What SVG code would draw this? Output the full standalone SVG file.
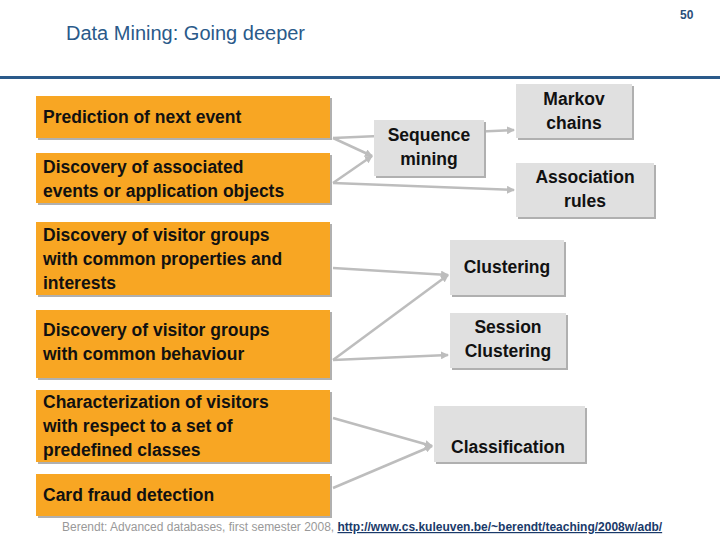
<svg xmlns="http://www.w3.org/2000/svg" width="720" height="540" viewBox="0 0 720 540">
<style>
text{font-family:"Liberation Sans",Arial,sans-serif}
.o{fill:#f8a623}
.g{fill:#e0e0e0}
.sh{fill:#b0b0b0}
.t{font-size:17.5px;font-weight:bold;fill:#111}
.c{text-anchor:middle}
.ln{stroke:#bdbdbd;stroke-width:2.5;fill:none;marker-end:url(#a)}
</style>
<defs><marker id="a" markerWidth="8" markerHeight="8" refX="7" refY="4" orient="auto" markerUnits="userSpaceOnUse"><path d="M0,0 L8,4 L0,8 Z" fill="#bdbdbd"/></marker></defs>
<rect width="720" height="540" fill="#fff"/>
<text x="680" y="19" font-size="12" font-weight="bold" fill="#2a4f7a">50</text>
<text x="66" y="40" font-size="20" fill="#2a5a8a">Data Mining: Going deeper</text>
<rect x="0" y="76" width="720" height="3" fill="#2a5a8a"/>
<g id="connectors">
<path class="ln" d="M333,138 L514,130"/>
<path class="ln" d="M333,138 L372,156"/>
<path class="ln" d="M333,183 L372,156"/>
<path class="ln" d="M333,183 L514,190"/>
<path class="ln" d="M333,268 L448,275"/>
<path class="ln" d="M333,360 L448,275"/>
<path class="ln" d="M333,360 L448,355"/>
<path class="ln" d="M333,418 L432,446"/>
<path class="ln" d="M333,488 L432,446"/>
</g>
<g id="n1"><rect class="sh" x="38" y="98" width="294" height="42"/><rect class="o" x="36" y="96" width="294" height="42"/><text class="t" x="43" y="123">Prediction of next event</text></g>
<g id="n2"><rect class="sh" x="38" y="155" width="294" height="50"/><rect class="o" x="36" y="153" width="294" height="50"/><text class="t" x="43" y="173">Discovery of associated</text><text class="t" x="43" y="197">events or application objects</text></g>
<g id="n3"><rect class="sh" x="38" y="224" width="294" height="73"/><rect class="o" x="36" y="222" width="294" height="73"/><text class="t" x="43" y="241">Discovery of visitor groups</text><text class="t" x="43" y="265">with common properties and</text><text class="t" x="43" y="289">interests</text></g>
<g id="n4"><rect class="sh" x="38" y="312" width="294" height="68"/><rect class="o" x="36" y="310" width="294" height="68"/><text class="t" x="43" y="336">Discovery of visitor groups</text><text class="t" x="43" y="360">with common behaviour</text></g>
<g id="n5"><rect class="sh" x="38" y="392" width="294" height="72"/><rect class="o" x="36" y="390" width="294" height="72"/><text class="t" x="43" y="408">Characterization of visitors</text><text class="t" x="43" y="432">with respect to a set of</text><text class="t" x="43" y="456">predefined classes</text></g>
<g id="n6"><rect class="sh" x="38" y="476" width="294" height="42"/><rect class="o" x="36" y="474" width="294" height="42"/><text class="t" x="43" y="501">Card fraud detection</text></g>
<g id="seq"><rect class="sh" x="376" y="122" width="110" height="56"/><rect class="g" x="374" y="120" width="110" height="56"/><text class="t c" x="429" y="141">Sequence</text><text class="t c" x="429" y="165">mining</text></g>
<g id="markov"><rect class="sh" x="518" y="86" width="116" height="54"/><rect class="g" x="516" y="84" width="116" height="54"/><text class="t c" x="574" y="105">Markov</text><text class="t c" x="574" y="129">chains</text></g>
<g id="assoc"><rect class="sh" x="518" y="165" width="138" height="54"/><rect class="g" x="516" y="163" width="138" height="54"/><text class="t c" x="585" y="183">Association</text><text class="t c" x="585" y="207">rules</text></g>
<g id="clust"><rect class="sh" x="452" y="242" width="114" height="55"/><rect class="g" x="450" y="240" width="114" height="55"/><text class="t c" x="507" y="273">Clustering</text></g>
<g id="sess"><rect class="sh" x="452" y="315" width="116" height="55"/><rect class="g" x="450" y="313" width="116" height="55"/><text class="t c" x="508" y="333">Session</text><text class="t c" x="508" y="357">Clustering</text></g>
<g id="class"><rect class="sh" x="436" y="408" width="151" height="56"/><rect class="g" x="434" y="406" width="151" height="56"/><text class="t c" x="508" y="453">Classification</text></g>
<text x="62" y="531" font-size="12" fill="#999">Berendt: Advanced databases, first semester 2008, <tspan fill="#1a3a6a" font-weight="bold" text-decoration="underline">http://www.cs.kuleuven.be/~berendt/teaching/2008w/adb/</tspan></text>
</svg>
